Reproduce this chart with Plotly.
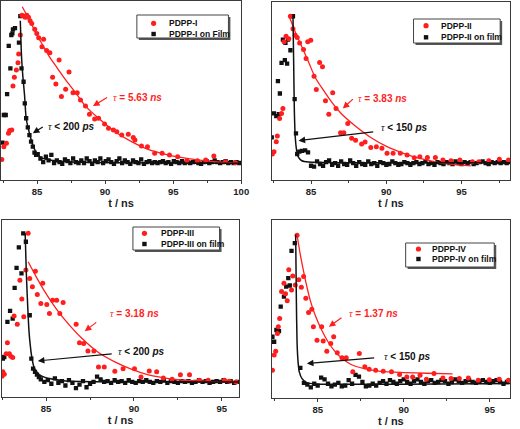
import numpy as np
import plotly.graph_objects as go

# ---------------- Panel I ----------------
p1_red_t = [82.41, 82.56, 82.75, 82.90, 82.99, 83.14, 83.23, 83.33, 83.48, 83.60, 83.65, 83.77, 83.89, 84.01,
            84.13, 84.25, 84.37, 84.49, 84.61, 84.83, 84.98, 85.12, 85.36, 85.48, 85.70, 85.94, 86.62, 86.14,
            86.38, 86.79, 87.10, 87.35, 87.64, 87.95, 88.19, 88.56, 88.85, 89.23, 89.52, 89.96, 90.25, 90.61,
            90.86, 91.22, 91.70, 92.07, 92.19, 92.67, 93.11, 93.64, 94.19, 94.73, 95.33, 96.01, 96.78, 97.39,
            97.99, 98.84, 99.57]
p1_red_y = [11.5, 18.6, 20.5, 26.1, 27.6, 27.9, 52.5, 57.4, 61.5, 65.5, 70.4, 81.0, 92.0, 91.6,
            90.9, 92.0, 90.9, 89.0, 87.5, 84.2, 81.9, 79.5, 74.5, 78.6, 72.3, 71.1, 67.0, 57.4,
            53.6, 46.6, 50.7, 60.3, 48.8, 48.8, 44.7, 41.3, 36.7, 34.1, 34.5, 31.3, 28.9, 27.9,
            27.0, 25.1, 25.5, 23.8, 22.3, 19.0, 18.6, 14.9, 14.9, 14.0, 13.0, 10.8, 10.8, 11.2,
            13.4, 10.2, 9.7]
p1_blk_t = [82.46, 82.56, 82.70, 82.80, 82.92, 83.04, 83.11, 83.19, 83.23, 83.38, 83.67, 83.77, 83.86,
            84.01, 84.10, 84.20, 84.32, 84.44, 84.56, 84.69, 84.81, 84.93]
p1_blk_y = [20.9, 36.3, 36.3, 48.0, 74.9, 62.4, 81.0, 81.9, 84.2, 84.9, 76.7, 91.6, 62.4,
            54.9, 42.8, 34.5, 29.4, 25.1, 21.4, 18.6, 15.3, 14.0]
p1_base_start, p1_base_step = 85.05, 0.2
p1_base_y = [14.5, 12.0, 10.0, 13.0, 11.0, 14.0,
             9.5, 11.0, 10.0, 9.0, 11.5, 10.5, 9.5, 12.0, 10.0, 9.5,
             11.0, 9.5, 12.0, 10.5, 9.0, 11.0, 10.0, 12.0, 9.5, 10.5,
             11.5, 10.0, 9.0, 10.5, 12.0, 9.5, 11.0, 10.0, 9.0, 11.0,
             10.0, 9.5, 11.5, 9.0, 10.0, 10.5, 9.5, 10.0, 9.5, 10.0,
             10.5, 9.5, 10.0, 9.0, 10.5, 10.0, 9.5, 10.5, 9.5, 10.0,
             9.5, 10.0, 10.5, 9.5, 9.0, 10.0, 10.5, 9.5, 10.0, 11.0,
             10.0, 9.5, 10.0, 10.5, 9.5, 10.0, 9.5, 10.0, 9.5]
p1_rfit_t = [83.91, 84.44, 84.93, 85.41, 85.90, 86.50, 87.10, 87.83, 88.56, 89.52, 90.73, 91.94, 93.15,
             94.36, 95.57, 96.78, 97.99, 99.20, 99.93]
p1_rfit_y = [96.8, 89.4, 81.9, 75.4, 68.9, 62.4, 55.9, 48.8, 41.3, 34.5, 27.0, 21.4, 17.1,
             14.5, 12.6, 11.2, 10.2, 9.7, 9.3]
p1_bfit_t = [83.77, 83.86, 83.96, 84.08, 84.20, 84.44, 84.69, 85.05, 85.41, 85.90, 87.10, 100.0]
p1_bfit_y = [89.0, 68.9, 57.7, 47.5, 34.5, 26.1, 19.6, 14.0, 12.1, 11.2, 10.2, 9.3]

# ---------------- Panel II ----------------
p2_red_t = [82.43, 82.54, 82.69, 82.76, 82.91, 83.04, 83.13, 83.21, 83.34, 83.52, 83.63, 83.80, 83.95,
            84.08, 84.24, 84.50, 84.67, 84.78, 84.98, 85.20, 85.35, 85.57, 85.76, 85.96, 86.18, 86.44,
            86.66, 86.96, 87.18, 87.44, 87.70, 87.96, 88.36, 88.59, 88.97, 89.34, 89.71, 90.05, 90.45,
            90.93, 91.38, 91.86, 92.23, 92.73, 93.26, 93.76, 94.30, 94.89, 95.72, 96.15, 96.81, 97.51, 98.12]
p2_red_y = [14.6, 15.9, 21.5, 24.7, 34.6, 37.4, 40.2, 77.6, 80.7, 79.4, 92.0, 85.0, 81.3,
            80.0, 77.0, 73.3, 68.2, 77.6, 78.5, 58.3, 50.8, 66.0, 63.6, 44.5, 37.0, 49.0,
            40.2, 26.5, 26.5, 31.8, 23.4, 22.4, 20.2, 21.3, 18.3, 18.7, 17.8, 15.0, 15.0,
            15.0, 14.0, 12.5, 13.1, 12.7, 12.7, 11.2, 10.8, 11.2, 10.3, 10.3, 10.8, 11.6, 11.2]
p2_blk_t = [82.39, 82.54, 82.69, 82.86, 82.93, 82.80, 83.04, 83.26, 83.41, 83.13, 83.30, 83.47, 83.63,
            83.80, 83.91, 84.00, 84.08, 84.22, 84.39, 84.61]
p2_blk_y = [23.9, 37.4, 35.9, 37.0, 48.6, 55.5, 65.8, 67.3, 65.4, 78.9, 77.0, 78.9, 72.9,
            92.0, 45.4, 26.2, 14.6, 15.9, 16.4, 16.6]
p2_base_start, p2_base_step = 84.8, 0.2
p2_base_y = [15.5, 8.0, 7.5, 10.5, 9.0, 8.0, 10.0, 11.0, 8.5, 9.5,
             8.0, 10.5, 9.0, 8.5, 11.0, 9.5, 8.0, 10.0, 9.0, 8.5,
             10.5, 9.0, 9.5, 8.0, 10.0, 9.5, 8.5, 9.0, 10.5, 9.5,
             8.5, 9.0, 10.0, 9.5, 8.5, 9.5, 10.0, 9.0, 9.5, 10.5,
             9.0, 9.5, 8.5, 10.0, 9.5, 9.0, 10.0, 9.5, 9.0, 10.5,
             9.5, 9.0, 10.0, 9.5, 10.0, 9.0, 9.5, 10.0, 10.5, 9.5,
             9.0, 10.0, 9.5, 10.0, 9.5, 10.0, 9.5, 10.0]
p2_rfit_t = [83.52, 83.95, 84.39, 84.83, 85.26, 85.70, 86.35, 87.00, 87.88, 88.97, 90.05, 91.14, 92.23,
             93.32, 94.41, 95.61]
p2_rfit_y = [92.5, 83.2, 74.8, 66.4, 57.9, 52.0, 44.0, 37.4, 30.8, 23.9, 18.7, 15.0, 12.1,
             10.1, 8.8, 7.9]
p2_bfit_t = [83.80, 83.85, 83.89, 83.95, 84.04, 84.17, 84.39, 84.83, 98.22]
p2_bfit_y = [92.5, 63.6, 39.3, 24.3, 16.8, 12.7, 10.8, 10.1, 9.7]

# ---------------- Panel III ----------------
p3_red_t = [82.49, 82.54, 82.62, 82.73, 82.80, 82.91, 82.99, 83.10, 83.18, 83.36, 83.51, 83.62, 83.73,
            83.85, 83.98, 84.07, 84.22, 84.39, 84.50, 84.70, 84.81, 85.04, 85.19, 85.37, 85.60, 85.78,
            85.97, 86.71, 86.90, 87.14, 87.38, 87.72, 87.98, 88.31, 88.91, 89.38, 90.03, 90.40, 90.87,
            91.29, 91.67, 92.17, 92.64, 93.16, 93.72, 94.22, 95.15, 95.43, 95.80]
p3_red_y = [11.7, 14.2, 12.8, 24.5, 30.6, 24.5, 23.0, 22.3, 45.7, 41.1, 66.0, 55.3, 45.3,
            71.7, 92.5, 67.0, 62.3, 71.1, 57.9, 52.8, 64.2, 52.3, 47.2, 54.7, 54.7, 47.2,
            53.4, 41.1, 30.6, 30.2, 26.0, 26.0, 17.0, 17.0, 14.5, 16.0, 16.0, 11.3, 14.7,
            14.2, 10.8, 10.0, 12.6, 12.6, 9.4, 9.4, 9.4, 8.9, 8.5]
p3_blk_t = [82.54, 82.62, 82.80, 82.95, 83.10, 83.21, 83.32, 83.45, 83.60, 83.70, 83.85, 84.07, 84.16,
            84.26, 84.37, 84.48, 84.59]
p3_blk_y = [21.7, 22.6, 42.5, 48.7, 44.3, 61.7, 73.0, 84.5, 69.8, 92.5, 87.7, 46.2, 21.7,
            16.0, 14.2, 12.6, 11.3]
p3_base_start, p3_base_step = 84.7, 0.2
p3_base_y = [10.0, 8.5, 9.5, 7.5, 10.5, 8.0, 9.0, 6.5, 9.5, 8.0,
             5.0, 7.0, 9.0, 5.5, 7.5, 8.5, 11.5, 10.0, 8.5, 9.0,
             8.0, 9.5, 8.5, 9.0, 8.0, 9.5, 8.5, 8.0, 9.0, 8.5,
             9.5, 8.5, 8.0, 9.0, 8.5, 9.5, 8.0, 9.0, 8.5, 8.0,
             9.0, 8.5, 9.0, 8.0, 8.5, 9.5, 8.5, 9.0, 8.0, 8.5,
             9.0, 8.5, 9.5, 8.5, 9.0, 8.0, 8.5]
p3_rfit_t = [83.98, 84.44, 84.91, 85.37, 85.93, 87.05, 87.98, 88.91, 89.84, 90.77, 91.70, 92.64, 93.57,
             94.50, 95.99]
p3_rfit_y = [76.4, 67.9, 59.8, 52.8, 45.3, 33.0, 25.1, 19.8, 15.7, 12.6, 10.8, 9.6, 9.1,
             8.7, 8.5]
p3_bfit_t = [83.81, 83.88, 83.96, 84.03, 84.11, 84.20, 84.31, 84.44, 84.72, 85.19, 86.12, 95.99]
p3_bfit_y = [92.5, 68.9, 50.0, 36.8, 28.3, 21.7, 17.0, 14.5, 11.9, 10.4, 9.1, 8.5]

# ---------------- Panel IV ----------------
p4_red_t = [82.37, 82.47, 82.56, 82.66, 82.71, 82.79, 82.90, 83.04, 83.13, 83.23, 83.32, 83.48, 83.55,
            83.70, 83.80, 83.90, 84.05, 84.18, 84.31, 84.47, 84.66, 84.75, 84.96, 85.23, 85.32, 85.53,
            85.76, 85.93, 86.14, 86.41, 86.66, 87.04, 87.42, 87.74, 87.99, 88.37, 88.81, 89.29, 89.76,
            90.18, 90.52, 90.95, 91.32, 91.76, 92.28, 92.75, 93.23, 93.76, 94.33, 94.98, 95.55, 96.09]
p4_red_y = [15.6, 24.1, 26.3, 36.3, 40.0, 44.7, 59.8, 64.5, 58.5, 54.7, 72.0, 60.7, 68.6,
            63.5, 91.4, 66.4, 62.2, 68.2, 56.0, 48.1, 49.8, 40.0, 32.5, 40.0, 32.0, 26.3,
            30.6, 34.4, 25.4, 22.6, 22.6, 14.7, 25.0, 17.5, 16.2, 15.6, 15.0, 14.7, 13.2,
            11.8, 11.8, 12.8, 10.5, 13.7, 11.3, 10.9, 10.9, 11.3, 10.0, 10.3, 10.5, 10.0]
p4_blk_t = [82.37, 82.47, 82.60, 82.75, 82.85, 83.04, 83.17, 83.29, 83.38, 83.48, 83.67, 83.99]
p4_blk_y = [34.4, 31.6, 38.2, 37.6, 51.3, 57.0, 62.6, 67.3, 63.2, 82.7, 87.0, 16.9]
p4_base_start, p4_base_step = 84.2, 0.2
p4_base_y = [8.5, 7.5, 6.0, 8.0, 7.0, 11.5, 10.5, 8.0, 6.5, 7.5,
             8.5, 6.5, 7.0, 10.0, 8.0, 13.0, 12.0, 9.0, 6.5, 7.0,
             8.0, 7.0, 8.5, 9.5, 8.0, 10.0, 9.0, 8.0, 9.5, 10.5,
             9.0, 8.0, 9.5, 10.5, 9.0, 8.0, 9.5, 10.0, 8.5, 9.0,
             10.0, 9.5, 8.0, 9.0, 10.5, 9.5, 8.5, 9.5, 10.0, 9.0,
             8.5, 9.5, 10.0, 9.0, 8.5, 9.5, 10.0, 9.0, 8.0, 9.0]
p4_rfit_t = [83.80, 83.99, 84.18, 84.37, 84.56, 84.85, 85.23, 85.60, 85.99, 86.37, 86.94, 87.70, 88.66,
             89.99, 91.32, 92.84]
p4_rfit_y = [91.7, 80.5, 71.1, 62.6, 55.1, 46.6, 38.2, 31.6, 26.3, 22.6, 18.8, 16.5, 15.0,
             14.3, 13.9, 13.5]
p4_bfit_t = [83.72, 83.76, 83.80, 83.86, 83.93, 84.09, 84.37, 84.85, 96.18]
p4_bfit_y = [91.7, 56.0, 31.6, 20.3, 14.7, 10.9, 8.6, 7.9, 8.1]

names = ["PDPP-I", "PDPP-II", "PDPP-III", "PDPP-IV"]
film_names = ["PDPP-I on Film", "PDPP-II on film", "PDPP-III on film", "PDPP-IV on film"]
tau_red = ["5.63", "3.83", "3.18", "1.37"]
tau_blk = ["< 200", "< 150", "< 200", "< 150"]
x_ranges = [[82.35, 100.0], [82.39, 98.22], [82.49, 95.99], [82.33, 96.18]]

RED = "#FF1E1E"
BLK = "#111111"
FRAME = "#3a3a3a"
FONT = "Liberation Sans"

W, H = 520, 429
def fx(px):
    return px / W
def fy(py):
    return 1 - py / H

# panel frames in pixels: (left, right, top, bottom)
frames = [(1, 245, 1, 180), (276, 518, 2, 180), (2, 243, 220, 397), (276, 518, 220, 398)]

panels = [
    (p1_red_t, p1_red_y, p1_blk_t, p1_blk_y, p1_base_start, p1_base_step, p1_base_y, p1_rfit_t, p1_rfit_y, p1_bfit_t, p1_bfit_y),
    (p2_red_t, p2_red_y, p2_blk_t, p2_blk_y, p2_base_start, p2_base_step, p2_base_y, p2_rfit_t, p2_rfit_y, p2_bfit_t, p2_bfit_y),
    (p3_red_t, p3_red_y, p3_blk_t, p3_blk_y, p3_base_start, p3_base_step, p3_base_y, p3_rfit_t, p3_rfit_y, p3_bfit_t, p3_bfit_y),
    (p4_red_t, p4_red_y, p4_blk_t, p4_blk_y, p4_base_start, p4_base_step, p4_base_y, p4_rfit_t, p4_rfit_y, p4_bfit_t, p4_bfit_y),
]

fig = go.Figure()
for i, (rt, ry, bt, by, bs, bstep, bby, rft, rfy, bft, bfy) in enumerate(panels):
    xa = "x" if i == 0 else f"x{i+1}"
    ya = "y" if i == 0 else f"y{i+1}"
    base_t = list(np.round(bs + bstep * np.arange(len(bby)), 3))
    fig.add_trace(go.Scatter(x=list(bt) + base_t, y=list(by) + list(bby), mode="markers",
                             marker=dict(symbol="square", size=4.3, color=BLK),
                             name=film_names[i], xaxis=xa, yaxis=ya, showlegend=False))
    fig.add_trace(go.Scatter(x=rt, y=ry, mode="markers",
                             marker=dict(symbol="circle", size=5.0, color=RED),
                             name=names[i], xaxis=xa, yaxis=ya, showlegend=False))
    fig.add_trace(go.Scatter(x=rft, y=rfy, mode="lines", line=dict(color=RED, width=1.3, shape="spline", smoothing=0.8),
                             xaxis=xa, yaxis=ya, showlegend=False, hoverinfo="skip"))
    fig.add_trace(go.Scatter(x=bft, y=bfy, mode="lines", line=dict(color=BLK, width=1.5, shape="spline", smoothing=0.6),
                             xaxis=xa, yaxis=ya, showlegend=False, hoverinfo="skip"))

layout = dict(width=W, height=H, margin=dict(l=0, r=0, t=0, b=0),
              paper_bgcolor="white", plot_bgcolor="white", showlegend=False)
for i, (l, r, t, b) in enumerate(frames):
    xk = "xaxis" if i == 0 else f"xaxis{i+1}"
    yk = "yaxis" if i == 0 else f"yaxis{i+1}"
    ya = "y" if i == 0 else f"y{i+1}"
    xa = "x" if i == 0 else f"x{i+1}"
    layout[xk] = dict(domain=[fx(l), fx(r)], range=x_ranges[i], anchor=ya,
                      showline=True, mirror=True, linecolor=FRAME, linewidth=1,
                      ticks="outside", ticklen=3, tickwidth=1, tickcolor=FRAME,
                      tick0=0, dtick=5, showgrid=False, zeroline=False,
                      minor=dict(dtick=2.5, ticks="outside", ticklen=2, tickcolor=FRAME),
                      tickfont=dict(family=FONT, size=9.5, color="#222", weight="bold"),
                      title=dict(text="t / ns", font=dict(family=FONT, size=11, color="#222", weight="bold"),
                                 standoff=2))
    layout[yk] = dict(domain=[fy(b), fy(t)], range=[0, 100], anchor=xa,
                      showline=True, mirror=True, linecolor=FRAME, linewidth=1,
                      ticks="", showticklabels=False, showgrid=False, zeroline=False)
fig.update_layout(**layout)

# tau annotations: (red text x,y, red arrow tail, red arrow head, black text x,y, black tail, black head)
tau_pos = [
    ((90.40, 46.0), (90.25, 46.6), (89.11, 41.3), (85.65, 29.8), (85.53, 30.2), (84.69, 26.1)),
    ((87.98, 45.6), (87.88, 46.2), (87.11, 40.2), (89.51, 29.3), (89.23, 27.1), (84.17, 22.1)),
    ((88.54, 47.2), (87.94, 42.8), (87.20, 37.2), (89.00, 25.5), (88.82, 24.5), (84.53, 20.4)),
    ((86.71, 47.2), (86.47, 45.7), (85.65, 40.0), (88.75, 23.1), (88.37, 22.6), (84.37, 19.4)),
]
TAU = '<span style="font-family:Liberation Serif;font-weight:normal"><i>τ</i></span>'
annotations = []
for i, (rtxt, rtail, rhead, btxt, btail, bhead) in enumerate(tau_pos):
    xr = "x" if i == 0 else f"x{i+1}"
    yr = "y" if i == 0 else f"y{i+1}"
    annotations.append(dict(x=rtxt[0], y=rtxt[1], xref=xr, yref=yr, xanchor="left", yanchor="middle",
                            text=f"{TAU}<b> = {tau_red[i]} <i>ns</i></b>", showarrow=False,
                            font=dict(family=FONT, size=10, color=RED)))
    annotations.append(dict(x=rhead[0], y=rhead[1], ax=rtail[0], ay=rtail[1], xref=xr, yref=yr,
                            axref=xr, ayref=yr, text="", showarrow=True, arrowhead=2, arrowsize=1.1,
                            arrowwidth=1.2, arrowcolor=RED))
    annotations.append(dict(x=btxt[0], y=btxt[1], xref=xr, yref=yr, xanchor="left", yanchor="middle",
                            text=f"{TAU}<b> {tau_blk[i]} <i>ps</i></b>", showarrow=False,
                            font=dict(family=FONT, size=10, color=BLK)))
    annotations.append(dict(x=bhead[0], y=bhead[1], ax=btail[0], ay=btail[1], xref=xr, yref=yr,
                            axref=xr, ayref=yr, text="", showarrow=True, arrowhead=2, arrowsize=1.1,
                            arrowwidth=1.2, arrowcolor=BLK))

# legends (pixel layout): box (x0, y0, x1, y1), marker x, red y, black y, text x
legends = [
    ((139, 15, 232, 38), 156, 23.3, 34.0, 169.5),
    ((420, 19, 508, 43), 432.7, 25.7, 37.3, 445.5),
    ((135, 227, 223, 250), 146.7, 233.3, 244.0, 161.0),
    ((412, 243, 502, 267), 425.0, 249.0, 259.0, 436.5),
]
shapes = []
for i, ((x0, y0, x1, y1), mx, ry_, by_, tx) in enumerate(legends):
    shapes.append(dict(type="rect", xref="paper", yref="paper", x0=fx(x0 + 2), x1=fx(x1 + 2), y0=fy(y1 + 2), y1=fy(y0 + 2),
                       fillcolor="#555555", line=dict(width=0), layer="above"))
    shapes.append(dict(type="rect", xref="paper", yref="paper", x0=fx(x0), x1=fx(x1), y0=fy(y1), y1=fy(y0),
                       fillcolor="white", line=dict(color="#444", width=1), layer="above"))
    shapes.append(dict(type="circle", xref="paper", yref="paper", xsizemode="pixel", ysizemode="pixel",
                       xanchor=fx(mx), yanchor=fy(ry_), x0=-2.6, x1=2.6, y0=-2.6, y1=2.6,
                       fillcolor=RED, line=dict(width=0), layer="above"))
    shapes.append(dict(type="rect", xref="paper", yref="paper", xsizemode="pixel", ysizemode="pixel",
                       xanchor=fx(mx), yanchor=fy(by_), x0=-2.2, x1=2.2, y0=-2.2, y1=2.2,
                       fillcolor=BLK, line=dict(width=0), layer="above"))
    annotations.append(dict(x=fx(tx), y=fy(ry_), xref="paper", yref="paper", xanchor="left", yanchor="middle",
                            text=f"<b>{names[i]}</b>", showarrow=False,
                            font=dict(family=FONT, size=8.5, color="#111")))
    annotations.append(dict(x=fx(tx), y=fy(by_), xref="paper", yref="paper", xanchor="left", yanchor="middle",
                            text=f"<b>{film_names[i]}</b>", showarrow=False,
                            font=dict(family=FONT, size=8.5, color="#111")))

fig.update_layout(annotations=annotations, shapes=shapes)
fig.write_html("out.html", config={"displayModeBar": False},
               post_script="document.body.style.margin='0px';")
